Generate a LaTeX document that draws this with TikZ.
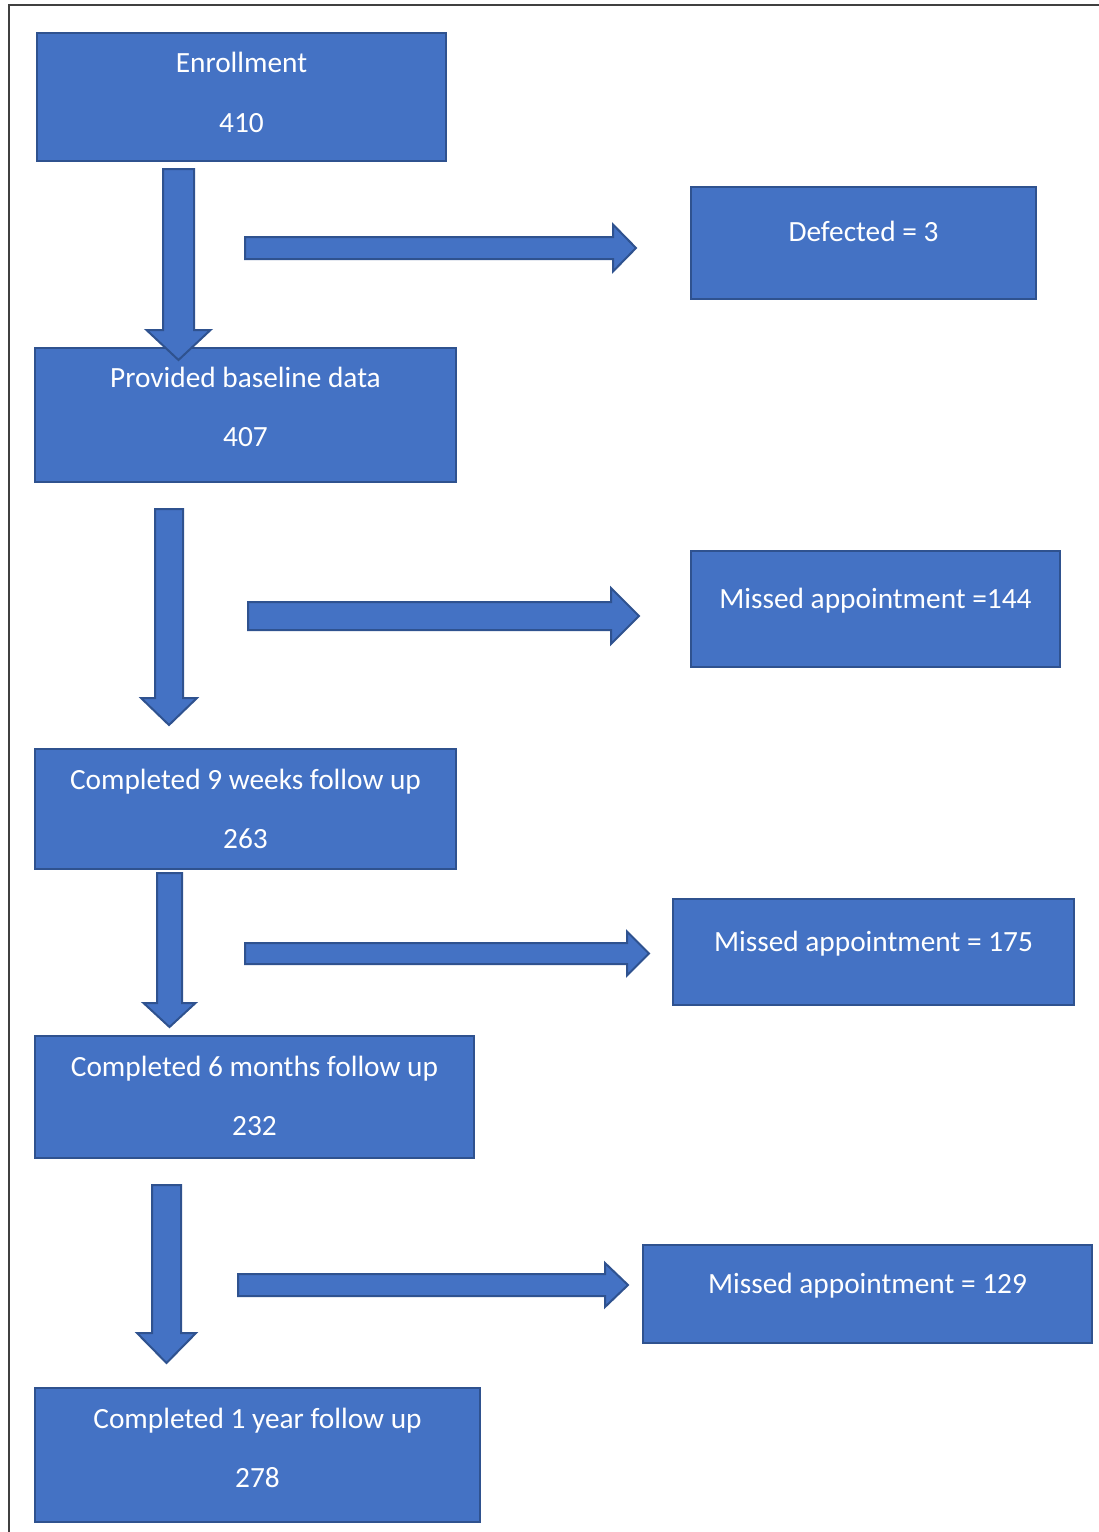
\documentclass[tikz,border=0pt]{standalone}
\usepackage{fontspec}
\setmainfont{Carlito}
\usetikzlibrary{fit,calc}
\definecolor{boxblue}{HTML}{4472C4}
\definecolor{boxedge}{HTML}{2F528F}
\definecolor{frameline}{HTML}{404040}

\begin{document}
\begin{tikzpicture}[x=0.75pt,y=-0.75pt,
    flowbox/.style={draw=boxedge,fill=boxblue,line width=1.5pt,inner sep=0pt},
    boxtext/.style={anchor=base,text=white,font=\fontsize{22}{26}\selectfont,inner sep=0pt},
    blockarrow/.style={draw=boxedge,fill=boxblue,line width=1.5pt,line join=miter}]
    \useasboundingbox (0,0) rectangle (1099,1532);
    % frame
    \draw[frameline,line width=1.2pt] (1099,5) -- (9,5) -- (9,1532);

    % left column
    \node[flowbox,fit={(37,33) (446,161)}] (enrol) {};
    \node[boxtext] (enroltxt) at ($(enrol.north)+(0,40)$) {Enrollment};
    \node[boxtext] (enrolnum) at ($(enrol.north)+(0,100)$) {410};
    \node[flowbox,fit={(35,348) (456,482)}] (base) {};
    \node[boxtext] (basetxt) at ($(base.north)+(0,40)$) {Provided baseline data};
    \node[boxtext] (basenum) at ($(base.north)+(0,99)$) {407};
    \node[flowbox,fit={(35,749) (456,869)}] (weeks) {};
    \node[boxtext] (weekstxt) at ($(weeks.north)+(0,41)$) {Completed 9 weeks follow up};
    \node[boxtext] (weeksnum) at ($(weeks.north)+(0,100)$) {263};
    \node[flowbox,fit={(35,1036) (474,1158)}] (months) {};
    \node[boxtext] (monthstxt) at ($(months.north)+(0,41)$) {Completed 6 months follow up};
    \node[boxtext] (monthsnum) at ($(months.north)+(0,100)$) {232};
    \node[flowbox,fit={(35,1388) (480,1522)}] (year) {};
    \node[boxtext] (yeartxt) at ($(year.north)+(0,41)$) {Completed 1 year follow up};
    \node[boxtext] (yearnum) at ($(year.north)+(0,100)$) {278};

    % right column
    \node[flowbox,fit={(691,187) (1036,299)}] (defect) {};
    \node[boxtext] (defecttxt) at ($(defect.north)+(0,55)$) {Defected = 3};
    \node[flowbox,fit={(691,551) (1060,667)}] (missa) {};
    \node[boxtext] (missatxt) at ($(missa.north)+(0,58)$) {Missed appointment =144};
    \node[flowbox,fit={(673,899) (1074,1005)}] (missb) {};
    \node[boxtext] (missbtxt) at ($(missb.north)+(0,53)$) {Missed appointment = 175};
    \node[flowbox,fit={(643,1245) (1092,1343)}] (missc) {};
    \node[boxtext] (missctxt) at ($(missc.north)+(0,49)$) {Missed appointment = 129};

    % down arrows: centre x / top / head start / tip / half shaft / half head
    \foreach \cx/\ys/\yh/\yt/\w/\h in {178.5/169/330/360/15.5/32,169/509/698/725/14/28,
        169.5/873/1003/1027/12.5/26,166.5/1185/1333/1363/14.5/29.5}
        \filldraw[blockarrow] (\cx-\w,\ys) -- (\cx+\w,\ys) -- (\cx+\w,\yh) -- (\cx+\h,\yh)
            -- (\cx,\yt) -- (\cx-\h,\yh) -- (\cx-\w,\yh) -- cycle;

    % right arrows: centre y / left / head start / tip / half shaft / half head
    \foreach \yc/\xs/\xh/\xt/\w/\h in {248/245/613/636/11/23.5,616/248/611/639/14/28,
        953.5/245/627/649/10.5/22,1285/238/605/628/11/22}
        \filldraw[blockarrow] (\xs,\yc-\w) -- (\xh,\yc-\w) -- (\xh,\yc-\h) -- (\xt,\yc)
            -- (\xh,\yc+\h) -- (\xh,\yc+\w) -- (\xs,\yc+\w) -- cycle;
\end{tikzpicture}
\end{document}
